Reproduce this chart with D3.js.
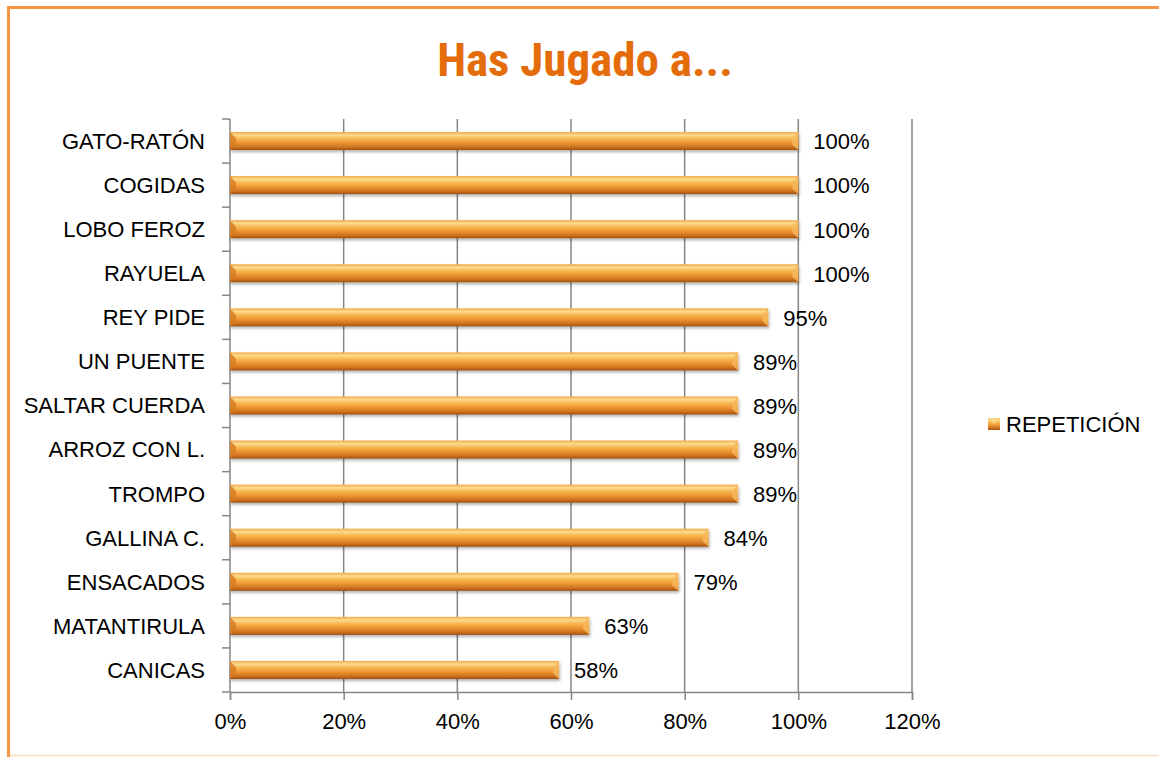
<!DOCTYPE html>
<html>
<head>
<meta charset="utf-8">
<script src="https://cdn.jsdelivr.net/npm/d3@7"></script>
<style>
  body { margin: 0; background: #fff; }
  svg text { font-family: "Liberation Sans", Arial, sans-serif; }
  svg text.title { font-family: "Roboto Condensed", "Liberation Sans Narrow", "Arial Narrow", sans-serif; }
</style>
</head>
<body>
<div id="chart"></div>
<script>
// chart data
const categories = ['GATO-RATÓN', 'COGIDAS', 'LOBO FEROZ', 'RAYUELA', 'REY PIDE', 'UN PUENTE',
                    'SALTAR CUERDA', 'ARROZ CON L.', 'TROMPO', 'GALLINA C.', 'ENSACADOS',
                    'MATANTIRULA', 'CANICAS'];
const values = [1.00, 1.00, 1.00, 1.00, 0.947, 0.894, 0.894, 0.894, 0.894, 0.842, 0.789, 0.632, 0.579];
const xTicks = [0, 0.2, 0.4, 0.6, 0.8, 1.0, 1.2];
const seriesName = 'REPETICIÓN';
const title = 'Has Jugado a...';

const width = 1159;
const height = 757;
const margin = {top: 119, right: 247, bottom: 65, left: 230};

const svg = d3.select('#chart')
              .append('svg')
              .attr('width', width)
              .attr('height', height);

// bar gradient (bevel look)
const defs = svg.append('defs');
const grad = defs.append('linearGradient')
                 .attr('id', 'barGrad')
                 .attr('x1', 0).attr('y1', 0).attr('x2', 0).attr('y2', 1);
[[0, '#f2a848'], [0.18, '#fcdc8e'], [0.34, '#f8bc58'], [0.6, '#ee9632'],
 [0.85, '#cc701e'], [1, '#9a5214']].forEach(s => {
  grad.append('stop').attr('offset', s[0]).attr('stop-color', s[1]);
});
const shadow = defs.append('filter').attr('id', 'barShadow')
                   .attr('x', '-5%').attr('y', '-30%').attr('width', '110%').attr('height', '180%');
shadow.append('feDropShadow').attr('dx', 1).attr('dy', 2).attr('stdDeviation', 1.5)
      .attr('flood-color', '#000').attr('flood-opacity', 0.3);

// frame
svg.append('line').attr('x1', 7).attr('x2', width).attr('y1', 7.5).attr('y2', 7.5)
   .attr('stroke', '#f79646').attr('stroke-width', 3);
svg.append('line').attr('x1', 8.5).attr('x2', 8.5).attr('y1', 6).attr('y2', height)
   .attr('stroke', '#f79646').attr('stroke-width', 3);
svg.append('line').attr('x1', 10).attr('x2', width).attr('y1', 755.5).attr('y2', 755.5)
   .attr('stroke', '#fde3cc').attr('stroke-width', 2);

// title
svg.append('text')
   .attr('class', 'title')
   .attr('x', 585).attr('y', 76)
   .attr('text-anchor', 'middle')
   .attr('font-size', 47).attr('font-weight', 'bold')
   .attr('fill', '#e46c0a')
   .text(title);

const innerW = width - margin.left - margin.right;
const innerH = height - margin.top - margin.bottom;

const g = svg.append('g').attr('transform', `translate(${margin.left}, ${margin.top})`);

const xScale = d3.scaleLinear().domain([0, 1.2]).range([0, innerW]);
const yScale = d3.scaleBand().domain(categories).range([0, innerH]).paddingInner(0.59).paddingOuter(0.295);

// gridlines
g.append('g')
 .selectAll('line')
 .data(xTicks.slice(1))
 .join('line')
 .attr('x1', d => xScale(d)).attr('x2', d => xScale(d))
 .attr('y1', 0).attr('y2', innerH)
 .attr('stroke', '#868686').attr('stroke-width', 1.5);

// x axis
const xAxis = g.append('g')
               .attr('transform', `translate(0, ${innerH})`)
               .call(d3.axisBottom(xScale).tickValues(xTicks).tickSize(8)
                       .tickFormat(d3.format('.0%')));
xAxis.select('.domain').attr('stroke', '#868686').attr('stroke-width', 1.5);
xAxis.selectAll('.tick line').attr('stroke', '#868686').attr('stroke-width', 1.5);
xAxis.selectAll('.tick text').attr('font-size', 22).attr('fill', '#000').attr('dy', '1.2em');

// y axis: ticks at band boundaries
const step = yScale.step();
const yAxis = g.append('g');
yAxis.append('line').attr('x1', 0).attr('x2', 0).attr('y1', 0).attr('y2', innerH)
     .attr('stroke', '#868686').attr('stroke-width', 1.5);
yAxis.selectAll('.ytick')
     .data(d3.range(categories.length + 1))
     .join('line')
     .attr('class', 'ytick')
     .attr('x1', -8).attr('x2', 0)
     .attr('y1', i => i * step).attr('y2', i => i * step)
     .attr('stroke', '#868686').attr('stroke-width', 1.5);
yAxis.selectAll('.ylabel')
     .data(categories)
     .join('text')
     .attr('class', 'ylabel')
     .attr('x', -25)
     .attr('y', d => yScale(d) + yScale.bandwidth() / 2)
     .attr('dy', '0.36em')
     .attr('text-anchor', 'end')
     .attr('font-size', 22)
     .text(d => d);

// bars
const bars = g.append('g')
              .selectAll('g')
              .data(categories.map((c, i) => ({cat: c, val: values[i]})))
              .join('g')
              .attr('transform', d => `translate(0, ${yScale(d.cat)})`);
const bh = yScale.bandwidth();
bars.append('rect')
    .attr('x', 0).attr('y', 0)
    .attr('width', d => xScale(d.val))
    .attr('height', bh)
    .attr('fill', 'url(#barGrad)')
    .attr('filter', 'url(#barShadow)');
// bevel ends
bars.append('path')
    .attr('d', `M0,0 L6,${bh * 0.35} L6,${bh * 0.7} L0,${bh} Z`)
    .attr('fill', '#d77a22').attr('opacity', 0.8);
bars.append('path')
    .attr('d', d => {
      const w = xScale(d.val);
      return `M${w},0 L${w - 6},${bh * 0.35} L${w - 6},${bh * 0.7} L${w},${bh} Z`;
    })
    .attr('fill', '#f6b65a').attr('opacity', 0.85);

// data labels
bars.append('text')
    .attr('x', d => xScale(d.val) + 15)
    .attr('y', bh / 2)
    .attr('dy', '0.38em')
    .attr('font-size', 22)
    .text(d => d3.format('.0%')(d.val));

// legend
const legend = svg.append('g').attr('transform', 'translate(988, 418)');
legend.append('rect').attr('width', 12).attr('height', 12).attr('fill', 'url(#barGrad)');
legend.append('path').attr('d', 'M0,0 L6,6 L12,0 Z').attr('fill', '#fcd98a').attr('opacity', 0.8);
legend.append('text').attr('x', 18).attr('y', 6).attr('dy', '0.36em')
      .attr('font-size', 22).text(seriesName);
</script>
</body>
</html>
